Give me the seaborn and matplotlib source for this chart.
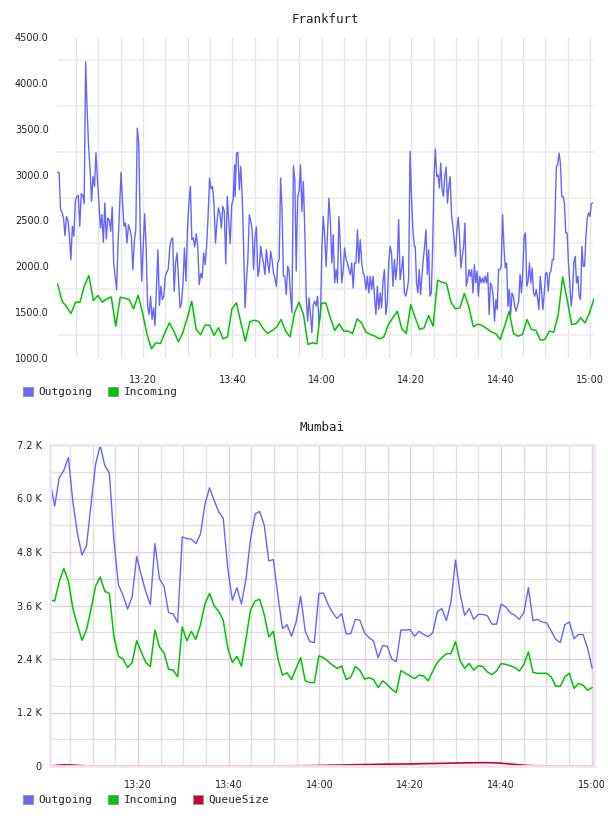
import numpy as np
import pandas as pd
import seaborn as sns
import matplotlib.pyplot as plt
import matplotlib.dates as mdates
import matplotlib.ticker as mticker
from matplotlib.patches import Patch

# Frankfurt, outgoing (about every 20 s), read in three 40-minute stretches
FRA_OUT_A = [3023, 3023, 2617, 2588, 2526, 2334, 2544, 2501, 2327, 2073,
             2436, 2327, 2708, 2762, 2773, 2436, 2791, 2780, 2682, 4231,
             3705, 3306, 3052, 2708, 2980, 2871, 3241, 2943, 2690, 2417,
             2562, 2261, 2690, 2298, 2526, 2508, 2381, 2646, 2036, 1891,
             1746, 2254, 2653, 3023, 2690, 2436, 2472, 2254, 2454, 2399,
             2327, 1964, 2272, 2399, 3506, 3343, 2399, 1837, 2218, 2573,
             2218, 1565, 1474, 1674, 1420, 1547, 1354, 1782, 2181, 1572,
             1782, 1637, 1674, 1891, 1935, 1971, 2200, 2290, 2309, 1728,
             2036, 2145, 1855, 1547, 1601, 1819, 2200, 1837, 2399, 2690,
             2871, 2290, 2309, 2211, 2356, 2218, 1801, 1920, 1873, 2145,
             2018, 2218, 2544, 2962, 2842, 2871, 2690, 2254, 2472, 2635,
             2581, 2417, 2653, 2599, 2026, 2762, 2508, 2247, 2671, 2726,
             3107]
FRA_OUT_B = [2762, 3234, 3241, 2835, 3088, 2762, 2218, 1547, 1855, 2073,
             2562, 2501, 2399, 1964, 2327, 2428, 1891, 1964, 2218, 2109,
             2036, 1910, 2181, 2036, 1928, 2163, 2073, 1928, 1873, 1782,
             2036, 2073, 2962, 2617, 1891, 1891, 1692, 2000, 1946, 1674,
             1492, 3096, 2943, 1946, 2762, 2816, 3107, 2599, 2925, 2399,
             1674, 1402, 1656, 1474, 1275, 1583, 1619, 1565, 1674, 1383,
             1456, 2181, 2544, 2327, 1993, 2363, 2744, 2472, 2036, 2345,
             1819, 1964, 1819, 2544, 2218, 1819, 1964, 2200, 2073, 2036,
             1964, 1910, 2036, 1764, 2036, 2036, 2399, 2036, 2290, 2036,
             1928, 1891, 1746, 1891, 1710, 1891, 1746, 1891, 1674, 1474,
             1782, 1529, 1710, 1547, 1837, 1964, 1474, 1601, 2036, 2218,
             2145, 1782, 2073, 1855, 2036, 2508, 1855, 1964, 2109, 1710,
             1674, 1746, 1855, 3252, 2762, 2399, 2218]
FRA_OUT_C = [2218, 1819, 1710, 1964, 1692, 1891, 2073, 2218, 2399, 1910,
             2181, 1674, 1710, 2218, 2980, 3277, 2980, 2998, 2853, 3125,
             2835, 2762, 2980, 3081, 2690, 2871, 2980, 2562, 2436, 2290,
             2109, 2399, 2533, 2327, 1982, 2109, 2218, 2472, 1782, 1855,
             1964, 1891, 1964, 1710, 2018, 1819, 1946, 1674, 1891, 1819,
             1873, 1819, 1891, 1819, 1928, 1474, 1819, 1782, 1674, 1402,
             1637, 1529, 1964, 1964, 2000, 2562, 2218, 1982, 2036, 1565,
             1746, 1474, 1710, 1674, 1565, 1510, 1565, 1619, 1910, 1710,
             1946, 2327, 2363, 1782, 1837, 2036, 1819, 1982, 1710, 1674,
             1746, 1656, 1529, 1891, 1728, 1529, 1710, 1928, 1928, 1728,
             1928, 1946, 2073, 2073, 2544, 3088, 3107, 3234, 3125, 2762,
             2762, 2690, 2363, 2363, 2036, 1819, 1565, 1710, 2036, 2109,
             1819, 1891, 1674, 1637, 2218, 2000, 2000, 2327, 2526, 2581,
             2544, 2682, 2690]
# minutes after 13:00 where each stretch starts / ends
FRA_OUT_SPANS = [(0.9, 40.5), (40.6, 80.7), (80.9, 120.6)]

# Frankfurt, incoming (about every minute from 13:00:54)
FRA_IN = [1808, 1619, 1558, 1485, 1608, 1608, 1790, 1899, 1626, 1681,
          1608, 1645, 1666, 1347, 1663, 1652, 1637, 1536, 1685, 1492,
          1256, 1100, 1166, 1158, 1275, 1383, 1293, 1177, 1275, 1438,
          1619, 1311, 1253, 1358, 1358, 1246, 1329, 1209, 1231, 1536,
          1601, 1383, 1184, 1394, 1412, 1398, 1318, 1267, 1300, 1336,
          1420, 1293, 1231, 1492, 1608, 1474, 1148, 1166, 1155, 1594,
          1601, 1438, 1300, 1373, 1293, 1293, 1267, 1427, 1383, 1282,
          1256, 1238, 1209, 1231, 1365, 1438, 1510, 1318, 1267, 1583,
          1438, 1311, 1329, 1463, 1347, 1848, 1826, 1812, 1608, 1536,
          1547, 1703, 1558, 1340, 1369, 1354, 1322, 1285, 1267, 1202,
          1347, 1510, 1267, 1238, 1256, 1420, 1311, 1300, 1195, 1202,
          1293, 1282, 1474, 1884, 1637, 1365, 1373, 1438, 1383, 1492,
          1645]
FRA_IN_START = 0.9

# Mumbai, one sample a minute
MUM_OUT = [6370, 5830, 6470, 6630, 6920, 5920, 5210, 4730, 4950, 5890,
           6780, 7190, 6740, 6570, 5060, 4060, 3830, 3520, 3790, 4700,
           4280, 3910, 3620, 4990, 4200, 4030, 3440, 3410, 3220, 5140,
           5100, 5090, 4990, 5200, 5880, 6240, 5960, 5700, 5560, 4430,
           3720, 4000, 3630, 4200, 5100, 5650, 5710, 5400, 4600, 4630,
           3830, 3080, 3170, 2910, 3230, 3810, 3030, 2790, 2770, 3870,
           3880, 3630, 3440, 3310, 3420, 2960, 2970, 3290, 3270, 2990,
           2880, 2800, 2430, 2700, 2690, 2400, 2340, 3050, 3050, 3060,
           2910, 3020, 2950, 2900, 2990, 3460, 3530, 3260, 3680, 4620,
           3870, 3380, 3530, 3290, 3400, 3400, 3370, 3180, 3180, 3630,
           3570, 3440, 3380, 3290, 3440, 4000, 3260, 3290, 3230, 3210,
           3030, 2840, 2770, 3170, 3230, 2860, 2950, 2950, 2640, 2190]
MUM_IN = [3720, 3700, 4140, 4430, 4150, 3530, 3160, 2820, 3060, 3530,
          4040, 4240, 3920, 3870, 2900, 2460, 2400, 2210, 2320, 2810,
          2560, 2320, 2230, 3050, 2670, 2540, 2170, 2150, 2000, 3120,
          2810, 3020, 2840, 3170, 3640, 3870, 3590, 3470, 3270, 2640,
          2320, 2460, 2240, 2860, 3500, 3700, 3740, 3400, 2900, 3020,
          2410, 2040, 2090, 1940, 2190, 2430, 1910, 1870, 1870, 2470,
          2430, 2350, 2260, 2190, 2240, 1940, 1990, 2230, 2150, 1950,
          1980, 1940, 1760, 1910, 1830, 1720, 1650, 2140, 2080, 2020,
          1960, 2040, 2020, 1910, 2130, 2320, 2430, 2520, 2520, 2790,
          2360, 2190, 2300, 2150, 2250, 2230, 2110, 2050, 2130, 2300,
          2280, 2250, 2210, 2130, 2280, 2560, 2100, 2080, 2080, 2080,
          2000, 1790, 1790, 2000, 2080, 1740, 1850, 1810, 1700, 1760]
MUM_QUEUE = [5, 10, 20, 25, 25, 20, 15, 8, 5, 3,
             2, 2, 2, 2, 2, 2, 2, 2, 3, 3,
             3, 3, 3, 3, 3, 3, 3, 3, 3, 3,
             3, 3, 3, 3, 3, 3, 3, 3, 3, 3,
             3, 3, 3, 3, 3, 3, 3, 3, 3, 3,
             4, 4, 4, 5, 5, 6, 7, 8, 10, 12,
             14, 16, 18, 20, 22, 24, 26, 28, 30, 32,
             34, 36, 38, 40, 41, 42, 43, 44, 45, 46,
             48, 50, 52, 54, 56, 58, 60, 62, 64, 66,
             68, 70, 72, 73, 74, 75, 74, 72, 68, 62,
             55, 45, 35, 25, 18, 12, 8, 6, 5, 4,
             3, 3, 3, 3, 3, 3, 3, 3, 3, 3]
MUM_SPAN = (0.65, 120.1)

BLUE = "#6666ff"
GREEN = "#00c400"
RED = "#cc0033"

base = pd.Timestamp("2013-05-14 13:00:00")


def at(minutes):
    return base + pd.to_timedelta(np.asarray(minutes, dtype=float), unit="min")


fra_out = pd.concat([
    pd.DataFrame({"t": at(np.linspace(a, b, len(vals))), "v": vals})
    for vals, (a, b) in zip([FRA_OUT_A, FRA_OUT_B, FRA_OUT_C], FRA_OUT_SPANS)
])
fra_in = pd.DataFrame({"t": at(FRA_IN_START + np.arange(len(FRA_IN))), "v": FRA_IN})
mum_t = at(np.linspace(MUM_SPAN[0], MUM_SPAN[1], len(MUM_OUT)))
mum = pd.DataFrame({"t": mum_t, "out": MUM_OUT, "inc": MUM_IN, "queue": MUM_QUEUE})

sns.set_style("white")
plt.rcParams["font.family"] = ["DejaVu Sans"]
W, H = 608, 816
fig = plt.figure(figsize=(W / 100, H / 100), dpi=100)

tick_font = dict(fontsize=7, color="#222222")
mono = "DejaVu Sans Mono"

# ---------------- Frankfurt ----------------
ax1 = fig.add_axes([57 / W, 1 - 358 / H, 537 / W, 321 / H])
sns.lineplot(data=fra_out, x="t", y="v", color=BLUE, lw=1.0, ax=ax1)
sns.lineplot(data=fra_in, x="t", y="v", color=GREEN, lw=1.1, ax=ax1)
ax1.set_xlim(at(0.76), at(120.9))
ax1.set_ylim(1000, 4500)
ax1.yaxis.set_major_locator(mticker.MultipleLocator(500))
ax1.yaxis.set_minor_locator(mticker.FixedLocator(np.arange(1250, 4500, 500)))
ax1.yaxis.set_major_formatter(mticker.FormatStrFormatter("%.1f"))
ax1.xaxis.set_major_locator(mdates.MinuteLocator(byminute=[0, 20, 40]))
ax1.xaxis.set_minor_locator(mdates.MinuteLocator(byminute=range(0, 60, 5)))
ax1.xaxis.set_major_formatter(mdates.DateFormatter("%H:%M"))
ax1.grid(False)
ax1.grid(which="minor", axis="y", color="#ededed", lw=1.2)
ax1.grid(which="both", axis="x", color="#e6e6e6", lw=1.0)
for s in ax1.spines.values():
    s.set_visible(False)
ax1.tick_params(axis="both", which="both", length=0)
ax1.tick_params(axis="y", pad=6, labelsize=7)
ax1.tick_params(axis="x", pad=12, labelsize=7)
ax1.set_xlabel("")
ax1.set_ylabel("")
ax1.set_title("Frankfurt", family=mono, fontsize=9, pad=10)

# ---------------- Mumbai ----------------
ax2 = fig.add_axes([50 / W, 1 - 766 / H, 544 / W, 321 / H])
sns.lineplot(data=mum, x="t", y="out", color=BLUE, lw=1.0, ax=ax2)
sns.lineplot(data=mum, x="t", y="inc", color=GREEN, lw=1.1, ax=ax2)
sns.lineplot(data=mum, x="t", y="queue", color=RED, lw=1.2, ax=ax2)
ax2.set_xlim(at(0.62), at(120.5))
ax2.set_ylim(0, 7200)
ax2.yaxis.set_major_locator(mticker.MultipleLocator(1200))
ax2.yaxis.set_minor_locator(mticker.FixedLocator(np.arange(600, 7200, 1200)))
ax2.yaxis.set_major_formatter(
    mticker.FuncFormatter(lambda v, p: "0" if v == 0 else f"{v / 1000:.1f} K"))
ax2.xaxis.set_major_locator(mdates.MinuteLocator(byminute=[0, 20, 40]))
ax2.xaxis.set_minor_locator(mdates.MinuteLocator(byminute=range(5, 60, 5)))
ax2.xaxis.set_major_formatter(mdates.DateFormatter("%H:%M"))
ax2.grid(False)
ax2.grid(which="major", color="#e3cde3", lw=1.0)
ax2.grid(which="minor", color="#e2dee2", lw=1.0)
ax2.set_axisbelow(True)
for s in ax2.spines.values():
    s.set_color("#f2e4f2")
    s.set_linewidth(2)
ax2.tick_params(axis="both", which="both", length=0)
ax2.tick_params(axis="y", pad=6, labelsize=7)
ax2.tick_params(axis="x", pad=10, labelsize=7)
ax2.set_xlabel("")
ax2.set_ylabel("")
ax2.set_title("Mumbai", family=mono, fontsize=9, pad=10)

# ---------------- legends ----------------
names = ["Outgoing", "Incoming", "QueueSize"]
colors = [BLUE, GREEN, RED]
leg_kw = dict(loc="center left", frameon=False, borderpad=0, borderaxespad=0,
              handlelength=0.9, handleheight=0.9, handletextpad=0.5,
              columnspacing=1.4, prop={"family": mono, "size": 8})
for n, y in [(2, 392), (3, 800)]:
    handles = [Patch(facecolor=c, edgecolor="#999999", lw=0.8) for c in colors[:n]]
    fig.legend(handles, names[:n], ncol=n, bbox_to_anchor=(23 / W, 1 - y / H), **leg_kw)

fig.savefig("out.png", dpi=100)
